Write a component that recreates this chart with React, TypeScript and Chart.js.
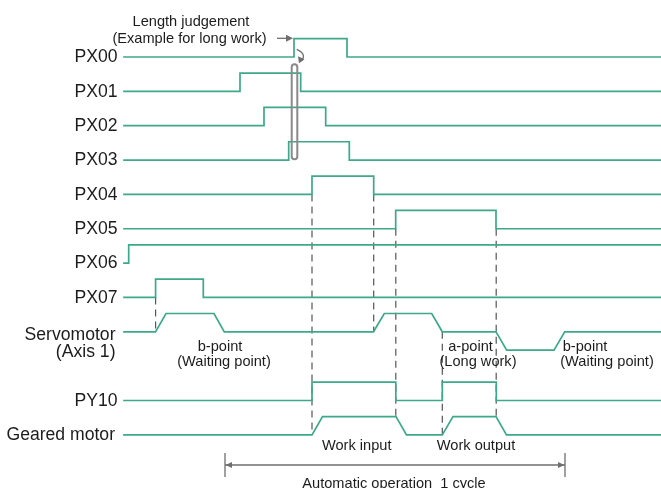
import { useEffect, useRef } from "react";
import { Chart, registerables } from "chart.js";

Chart.register(...registerables);

// ---------- data ----------
const TIME_START = 124;
const TIME_END = 661;
const LEVEL_AMP = 0.533; // height of a "high" level, in row units

const signalNames = ["PX00", "PX01", "PX02", "PX03", "PX04", "PX05", "PX06", "PX07", "Servomotor", "PY10", "Geared motor"];
const signalRows = [0, 1, 2, 3, 4, 5, 6, 7, 8, 10, 11];

// digital signals: toggle times (start low)
const px00Edges = [294, 347];
const px01Edges = [240, 300.7];
const px02Edges = [264, 325.7];
const px03Edges = [288.7, 349.3];
const px04Edges = [312, 373.7];
const px05Edges = [395.7, 496];
const px06Edges = [128.7];
const px07Edges = [155.6, 203.3];
const py10Edges = [312, 395.8, 442.3, 496.3];

// analog profiles: time / level
const servoTimes = [124, 155.5, 166, 214, 224.3, 373.5, 384.3, 431.7, 442.3, 496, 506.7, 554, 564.7, 661];
const servoLevels = [0, 0, 1, 1, 0, 0, 1, 1, 0, 0, -1, -1, 0, 0];
const gearedTimes = [124, 312, 322.5, 396, 406.5, 442.3, 453, 496, 506.5, 661];
const gearedLevels = [0, 0, 1, 1, 0, 0, 1, 1, 0, 0];

// dashed guide lines: time, from (row, level) to (row, level)
const guideTimes = [155.6, 312, 373.7, 395.8, 442.3, 496.2];
const guideFromRows = [7, 4, 4, 5, 8, 5];
const guideToRows = [8, 11, 8, 11, 11, 11];
const guideToLevels = [0, 0, 0, 1, 0, 1];

// ---------- helpers ----------
const yv = (row: number, level: number) => -row + level * LEVEL_AMP;

function digitalPoints(row: number, edges: number[]) {
  const pts: { x: number; y: number }[] = [{ x: TIME_START, y: yv(row, 0) }];
  let lvl = 0;
  for (const e of edges) {
    pts.push({ x: e, y: yv(row, lvl) });
    lvl = lvl ? 0 : 1;
    pts.push({ x: e, y: yv(row, lvl) });
  }
  pts.push({ x: TIME_END, y: yv(row, lvl) });
  return pts;
}

function profilePoints(row: number, times: number[], levels: number[]) {
  return times.map((t, i) => ({ x: t, y: yv(row, levels[i]) }));
}

const GREEN = "#3ea88a";
const GRAY = "#6f6f6f";
const FONT = '"Liberation Sans", Arial, Helvetica, sans-serif';

const annotationPlugin = {
  id: "timingAnnotations",
  afterDatasetsDraw(chart: any) {
    const ctx: CanvasRenderingContext2D = chart.ctx;
    const xs = chart.scales.x;
    const ys = chart.scales.y;
    const X = (t: number) => xs.getPixelForValue(t);
    const Y = (r: number) => ys.getPixelForValue(-r);
    ctx.save();
    ctx.fillStyle = "#1c1c1c";

    // signal labels
    ctx.font = `17.6px ${FONT}`;
    ctx.textAlign = "right";
    ctx.textBaseline = "alphabetic";
    signalNames.forEach((name, i) => {
      const r = signalRows[i];
      if (name === "Servomotor") {
        ctx.fillText("Servomotor", 115.5, Y(8.239));
        ctx.fillText("(Axis 1)", 115.5, Y(8.734));
      } else if (name === "Geared motor") {
        ctx.fillText(name, 115, Y(r + 0.154));
      } else {
        ctx.fillText(name, 117.5, Y(r + 0.154));
      }
    });

    // small annotations
    ctx.font = `14.6px ${FONT}`;
    ctx.textAlign = "center";
    const small: [string, number, number][] = [
      ["Length judgement", 191, -0.9025],
      ["(Example for long work)", 189.5, -0.399],
      ["b-point", 220, 8.559],
      ["(Waiting point)", 224, 8.996],
      ["a-point", 470.5, 8.559],
      ["(Long work)", 478, 8.996],
      ["b-point", 585, 8.559],
      ["(Waiting point)", 607, 8.996],
      ["Work input", 356.7, 11.441],
      ["Work output", 476, 11.441],
      ["Automatic operation  1 cycle", 394, 12.533],
    ];
    small.forEach(([s, t, r]) => ctx.fillText(s, X(t), Y(r)));

    // gray arrows
    ctx.strokeStyle = GRAY;
    ctx.fillStyle = GRAY;
    ctx.lineWidth = 1.3;
    // cycle arrow
    const ay = Y(11.878);
    const a0 = X(225), a1 = X(565);
    ctx.beginPath();
    ctx.moveTo(a0, ay); ctx.lineTo(a1, ay);
    ctx.moveTo(a0, Y(11.528)); ctx.lineTo(a0, Y(12.227));
    ctx.moveTo(a1, Y(11.528)); ctx.lineTo(a1, Y(12.227));
    ctx.stroke();
    ctx.beginPath();
    ctx.moveTo(a0 + 0.5, ay); ctx.lineTo(a0 + 7, ay - 3); ctx.lineTo(a0 + 7, ay + 3); ctx.closePath();
    ctx.moveTo(a1 - 0.5, ay); ctx.lineTo(a1 - 7, ay - 3); ctx.lineTo(a1 - 7, ay + 3); ctx.closePath();
    ctx.fill();

    // length judgement arrow
    const ly = Y(-0.544);
    ctx.beginPath();
    ctx.moveTo(X(277), ly); ctx.lineTo(X(289), ly);
    ctx.stroke();
    ctx.beginPath();
    ctx.moveTo(X(293), ly); ctx.lineTo(X(286), ly - 3.5); ctx.lineTo(X(286), ly + 3.5); ctx.closePath();
    ctx.fill();

    // curved arrow
    ctx.beginPath();
    ctx.moveTo(X(296.7), Y(-0.224));
    ctx.quadraticCurveTo(X(307), Y(-0.09), X(301.5), Y(0.12));
    ctx.stroke();
    ctx.beginPath();
    const tx = X(299), tyy = Y(0.18);
    ctx.moveTo(tx, tyy); ctx.lineTo(tx - 1, tyy - 7); ctx.lineTo(tx + 5.5, tyy - 4); ctx.closePath();
    ctx.fill();

    // capsule
    ctx.strokeStyle = "#8a8a8a";
    ctx.lineWidth = 2;
    const cx0 = X(291.7), cx1 = X(297.3), cy0 = Y(0.2125), cy1 = Y(2.978);
    ctx.beginPath();
    (ctx as any).roundRect(cx0, cy0, cx1 - cx0, cy1 - cy0, (cx1 - cx0) / 2);
    ctx.stroke();

    ctx.restore();
  },
};

export default function App() {
  const ref = useRef<HTMLCanvasElement | null>(null);

  useEffect(() => {
    if (!ref.current) return;
    const digital = [px00Edges, px01Edges, px02Edges, px03Edges, px04Edges, px05Edges, px06Edges, px07Edges];
    const signalSets: any[] = digital.map((edges, i) => ({
      label: signalNames[i],
      data: digitalPoints(signalRows[i], edges),
    }));
    signalSets.push({ label: "Servomotor", data: profilePoints(8, servoTimes, servoLevels) });
    signalSets.push({ label: "PY10", data: digitalPoints(10, py10Edges) });
    signalSets.push({ label: "Geared motor", data: profilePoints(11, gearedTimes, gearedLevels) });
    signalSets.forEach((d) => {
      d.borderColor = GREEN;
      d.borderWidth = 1.7;
      d.pointRadius = 0;
      d.tension = 0;
      d.fill = false;
      d.borderCapStyle = "square";
    });
    const guideSets = guideTimes.map((t, i) => ({
      label: "guide" + i,
      data: [
        { x: t, y: yv(guideFromRows[i], 0) },
        { x: t, y: yv(guideToRows[i], guideToLevels[i]) },
      ],
      borderColor: "#555555",
      borderWidth: 1.2,
      borderDash: [7, 5],
      pointRadius: 0,
      fill: false,
    }));

    const chart = new Chart(ref.current, {
      type: "line",
      data: { datasets: [...signalSets, ...guideSets] },
      options: {
        animation: false,
        responsive: false,
        maintainAspectRatio: false,
        layout: { padding: 0 },
        plugins: { legend: { display: false }, tooltip: { enabled: false } },
        events: [],
        scales: {
          x: { type: "linear", min: 0, max: 661, display: false },
          y: { type: "linear", min: -12.5473, max: 1.65939, display: false },
        },
      },
      plugins: [annotationPlugin],
    });
    return () => chart.destroy();
  }, []);

  return (
    <div style={{ position: "fixed", left: 0, top: 0, width: 661, height: 488, background: "#fff" }}>
      <canvas ref={ref} width={661} height={488} style={{ width: 661, height: 488, display: "block" }} />
    </div>
  );
}
